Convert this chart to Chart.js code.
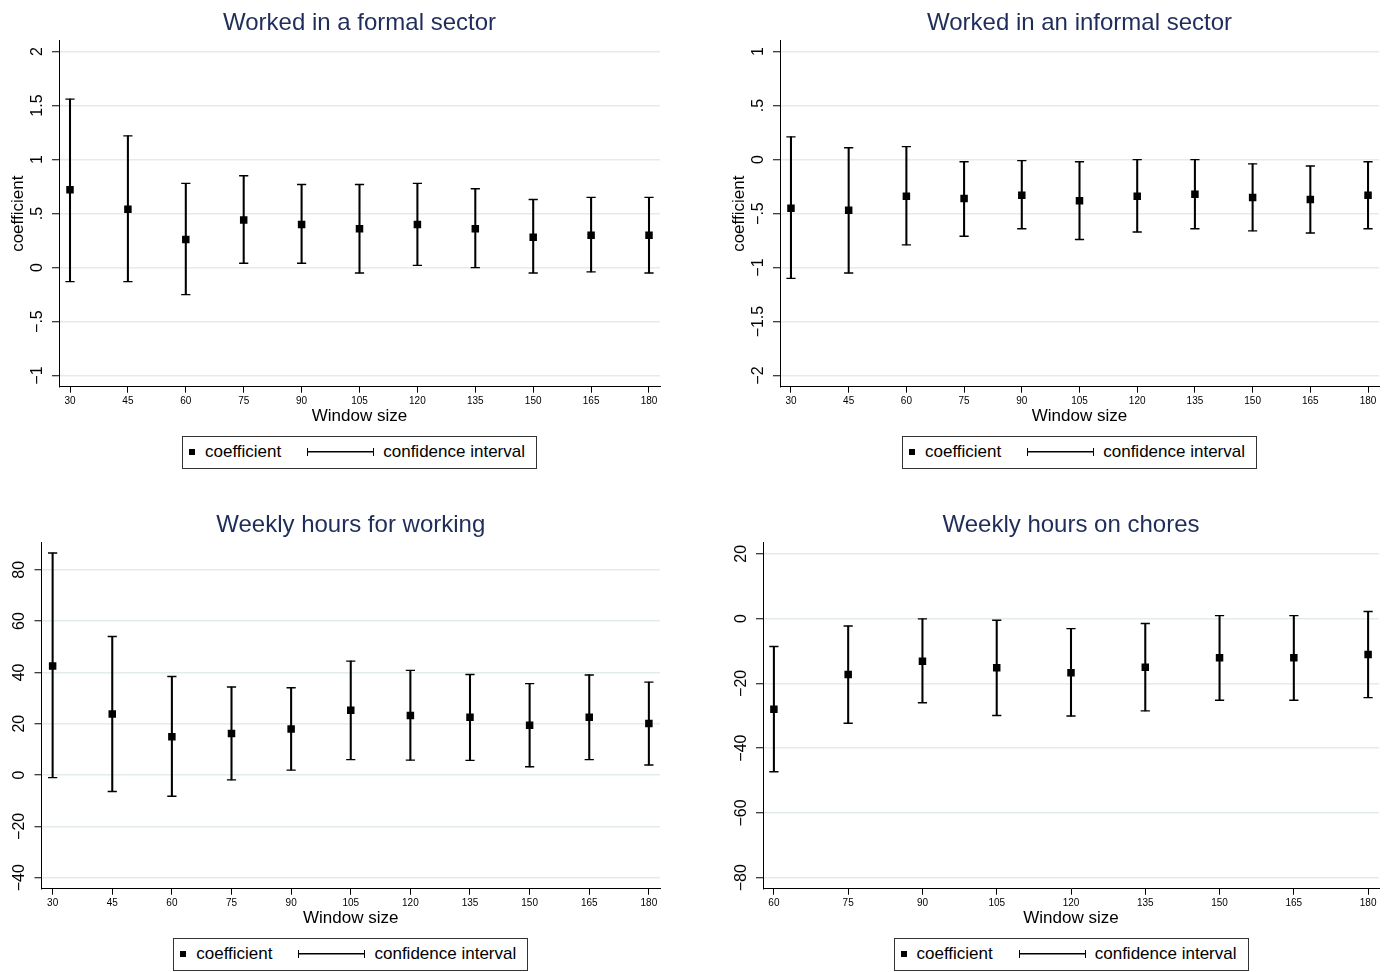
<!DOCTYPE html>
<html>
<head>
<meta charset="utf-8">
<script src="https://cdn.jsdelivr.net/npm/chart.js@4.4.1/dist/chart.umd.min.js"></script>
<style>
  body { margin: 0; background: #fff; }
  #page { position: relative; width: 1385px; height: 972px; overflow: hidden; }
  .panel { position: absolute; }
  .legend {
    position: absolute; box-sizing: border-box; height: 33px;
    border: 1px solid #333; background: #fff;
    display: flex; align-items: center; white-space: nowrap;
    padding: 0 11px 0 6px;
    font: 17px "Liberation Sans", Arial, sans-serif; color: #000;
  }
  .legend .sq { width: 6px; height: 6px; background: #000; margin-right: 10px; }
  .legend .ci {
    width: 67px; height: 8px; box-sizing: border-box; margin: 0 9px 0 26px;
    border-left: 1.5px solid #000; border-right: 1.5px solid #000;
    background: linear-gradient(#000, #000) center / 100% 1.5px no-repeat;
  }
</style>
</head>
<body>
<div id="page"></div>
<script>
// window sizes (x categories)
const windows = [30, 45, 60, 75, 90, 105, 120, 135, 150, 165, 180];
const choresWindows = [60, 75, 90, 105, 120, 135, 150, 165, 180];

// Worked in a formal sector
const formalCoef = [0.72, 0.54, 0.26, 0.44, 0.40, 0.36, 0.40, 0.36, 0.28, 0.30, 0.30];
const formalLow  = [-0.13, -0.13, -0.25, 0.04, 0.04, -0.05, 0.02, 0.00, -0.05, -0.04, -0.05];
const formalHigh = [1.56, 1.22, 0.78, 0.85, 0.77, 0.77, 0.78, 0.73, 0.63, 0.65, 0.65];

// Worked in an informal sector
const informalCoef = [-0.45, -0.47, -0.34, -0.36, -0.33, -0.38, -0.34, -0.32, -0.35, -0.37, -0.33];
const informalLow  = [-1.10, -1.05, -0.79, -0.71, -0.64, -0.74, -0.67, -0.64, -0.66, -0.68, -0.64];
const informalHigh = [0.21, 0.11, 0.12, -0.02, -0.01, -0.02, 0.00, 0.00, -0.04, -0.06, -0.02];

// Weekly hours for working
const hoursCoef = [42.5, 23.8, 14.9, 16.2, 17.9, 25.2, 23.2, 22.5, 19.4, 22.5, 20.1];
const hoursLow  = [-1.0, -6.4, -8.3, -1.9, 1.9, 6.0, 5.8, 5.7, 3.2, 6.0, 3.9];
const hoursHigh = [86.5, 54.0, 38.4, 34.3, 34.0, 44.4, 40.8, 39.2, 35.6, 39.0, 36.2];

// Weekly hours on chores
const choresCoef = [-28.0, -17.3, -13.2, -15.2, -16.7, -15.0, -12.1, -12.1, -11.1];
const choresLow  = [-47.3, -32.3, -26.0, -29.9, -30.1, -28.5, -25.2, -25.2, -24.4];
const choresHigh = [-8.6, -2.3, -0.1, -0.5, -3.1, -1.5, 0.9, 0.9, 2.2];

// y tick values and labels
const formalTicks = [-1, -0.5, 0, 0.5, 1, 1.5, 2];
const formalTickLabels = ['\u22121', '\u2212.5', '0', '.5', '1', '1.5', '2'];
const informalTicks = [-2, -1.5, -1, -0.5, 0, 0.5, 1];
const informalTickLabels = ['\u22122', '\u22121.5', '\u22121', '\u2212.5', '0', '.5', '1'];
const hoursTicks = [-40, -20, 0, 20, 40, 60, 80];
const hoursTickLabels = ['\u221240', '\u221220', '0', '20', '40', '60', '80'];
const choresTicks = [-80, -60, -40, -20, 0, 20];
const choresTickLabels = ['\u221280', '\u221260', '\u221240', '\u221220', '0', '20'];

const FONT = '"Liberation Sans", Arial, sans-serif';
Chart.defaults.font.family = FONT;
Chart.defaults.color = '#000';

const panels = [
  { title: 'Worked in a formal sector', x: windows, coef: formalCoef, low: formalLow, high: formalHigh,
    ticks: formalTicks, tickLabels: formalTickLabels, yTitle: 'coefficient',
    left: 0, top: 0, width: 692, yWidth: 59, padRight: 32, xMin: 27.15, xMax: 182.85, yMin: -1.103, yMax: 2.1 },
  { title: 'Worked in an informal sector', x: windows, coef: informalCoef, low: informalLow, high: informalHigh,
    ticks: informalTicks, tickLabels: informalTickLabels, yTitle: 'coefficient',
    left: 721, top: 0, width: 664, yWidth: 59, padRight: 5, xMin: 27.15, xMax: 182.85, yMin: -2.103, yMax: 1.1 },
  { title: 'Weekly hours for working', x: windows, coef: hoursCoef, low: hoursLow, high: hoursHigh,
    ticks: hoursTicks, tickLabels: hoursTickLabels, yTitle: '',
    left: 0, top: 502, width: 692, yWidth: 41.5, padRight: 32, xMin: 27.2, xMax: 182.8, yMin: -44.3, yMax: 90.5 },
  { title: 'Weekly hours on chores', x: choresWindows, coef: choresCoef, low: choresLow, high: choresHigh,
    ticks: choresTicks, tickLabels: choresTickLabels, yTitle: '',
    left: 721, top: 502, width: 664, yWidth: 42, padRight: 5, xMin: 57.8, xMax: 182.2, yMin: -83.4, yMax: 23.4 }
];

const measureCtx = document.createElement('canvas').getContext('2d');
function widest(labels, size) {
  measureCtx.font = size + 'px ' + FONT;
  return Math.max(...labels.map(t => measureCtx.measureText(t).width));
}

const page = document.getElementById('page');
const HEIGHT = 430;
const LINE_W = 1.4;

panels.forEach(p => {
  const wrap = document.createElement('div');
  wrap.className = 'panel';
  wrap.style.left = p.left + 'px';
  wrap.style.top = p.top + 'px';
  const canvas = document.createElement('canvas');
  canvas.width = p.width;
  canvas.height = HEIGHT;
  wrap.appendChild(canvas);
  page.appendChild(wrap);

  // rotated y labels sit ~21px left of the axis line
  const yPad = 21.5 - 7 - widest(p.tickLabels, 16) / 2;

  const chart = new Chart(canvas, {
    type: 'scatter',
    data: {
      datasets: [
        {
          label: 'coefficient',
          data: p.x.map((w, i) => ({ x: w, y: p.coef[i] })),
          pointStyle: 'rect',
          pointRadius: 5.3,
          pointBackgroundColor: '#000',
          pointBorderWidth: 0
        },
        {
          label: 'confidence interval',
          type: 'bar',
          data: p.x.map((w, i) => ({ x: w, y: [p.low[i], p.high[i]] })),
          backgroundColor: '#000',
          borderWidth: 0,
          barThickness: LINE_W
        },
        {
          label: 'lower cap',
          data: p.x.map((w, i) => ({ x: w, y: p.low[i] })),
          pointStyle: 'line',
          pointRadius: 4.6,
          pointBorderColor: '#000',
          pointBorderWidth: LINE_W
        },
        {
          label: 'upper cap',
          data: p.x.map((w, i) => ({ x: w, y: p.high[i] })),
          pointStyle: 'line',
          pointRadius: 4.6,
          pointBorderColor: '#000',
          pointBorderWidth: LINE_W
        }
      ]
    },
    options: {
      responsive: false,
      animation: false,
      events: [],
      layout: { padding: { left: 0, right: p.padRight, top: 0, bottom: 0 } },
      plugins: {
        legend: { display: false },
        tooltip: { enabled: false },
        title: {
          display: true,
          text: p.title,
          fullSize: false,
          color: '#1f2d5a',
          font: { size: 24, weight: 'normal' },
          padding: { top: 9, bottom: 3 }
        }
      },
      scales: {
        x: {
          type: 'linear',
          min: p.xMin,
          max: p.xMax,
          offset: false,
          afterBuildTicks: axis => { axis.ticks = p.x.map(v => ({ value: v })); },
          afterFit: scale => { scale.height = 43.3; },
          grid: { offset: false, drawOnChartArea: false, tickLength: 6, tickColor: '#000', tickWidth: 1 },
          border: { color: '#000', width: 1 },
          ticks: { font: { size: 10 }, color: '#000', padding: 3, maxRotation: 0, autoSkip: false },
          title: { display: true, text: 'Window size', font: { size: 17 }, color: '#000', padding: { top: 0, bottom: 3 } }
        },
        y: {
          type: 'linear',
          min: p.yMin,
          max: p.yMax,
          afterBuildTicks: axis => { axis.ticks = p.ticks.map(v => ({ value: v })); },
          afterFit: scale => { scale.width = p.yWidth; },
          grid: { color: '#e3ebed', lineWidth: 1.5, tickLength: 7, tickColor: '#000', tickWidth: 1 },
          border: { color: '#000', width: 1 },
          ticks: {
            font: { size: 16 },
            color: '#000',
            minRotation: 90,
            maxRotation: 90,
            crossAlign: 'center',
            padding: yPad,
            autoSkip: false,
            callback: v => p.tickLabels[p.ticks.indexOf(v)]
          },
          title: {
            display: !!p.yTitle,
            text: p.yTitle,
            font: { size: 17 },
            color: '#000',
            padding: { top: 8.5, bottom: 0 }
          }
        }
      }
    }
  });

  // Stata-style boxed legend under the plot
  const ds = chart.data.datasets;
  const legend = document.createElement('div');
  legend.className = 'legend';
  legend.innerHTML = '<span class="sq"></span><span>' + ds[0].label + '</span>' +
    '<span class="ci"></span><span>' + ds[1].label + '</span>';
  page.appendChild(legend);
  const mid = p.left + (chart.chartArea.left + chart.chartArea.right) / 2;
  legend.style.left = (mid - legend.offsetWidth / 2) + 'px';
  legend.style.top = (p.top + 435.5) + 'px';
});
</script>
</body>
</html>
